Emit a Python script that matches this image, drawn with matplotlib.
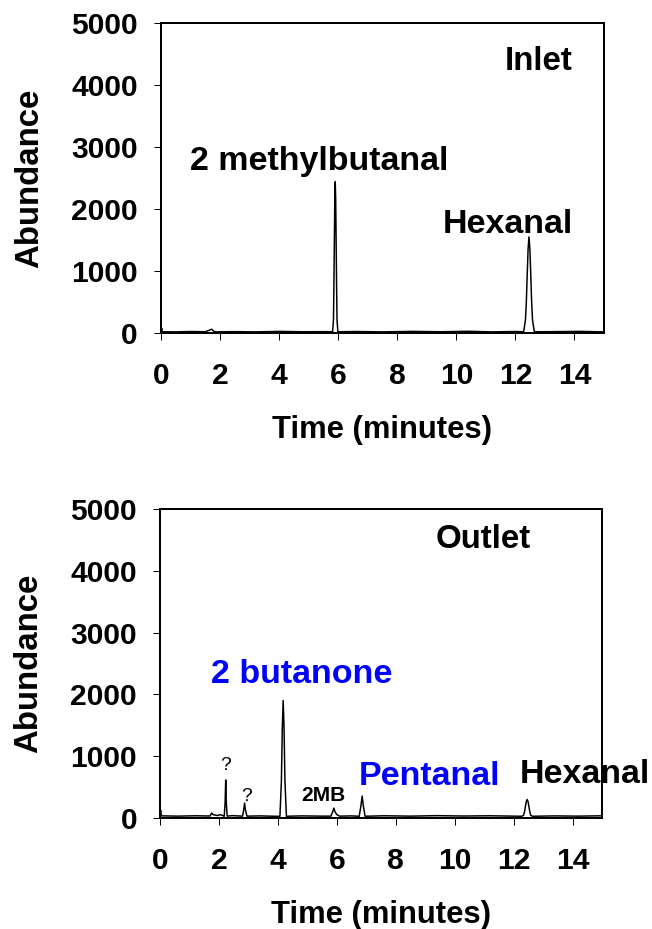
import matplotlib
matplotlib.use("Agg")
import matplotlib.pyplot as plt

plt.rcParams['font.family'] = ['Liberation Sans', 'DejaVu Sans']
plt.rcParams['font.weight'] = 'bold'

# chromatogram traces (time in minutes, abundance)
inlet_time = [0.0, 0.02, 0.05, 0.5, 1.0, 1.5, 1.72, 1.76, 1.80, 1.86, 2.5, 3.2,
              4.0, 4.8, 5.5, 5.81, 5.84, 5.855, 5.87, 5.885, 5.90, 5.915,
              5.93, 5.945, 5.96, 5.99, 6.6,
              7.5, 8.5, 9.5, 10.4, 11.2, 12.0, 12.28, 12.34, 12.37, 12.40,
              12.43, 12.46, 12.49, 12.52, 12.55, 12.58, 12.64, 13.3, 14.2, 15.0]
inlet_abund = [25, 80, 20, 18, 24, 20, 60, 40, 25, 18, 22, 18,
               26, 20, 22, 20, 210, 790, 1490, 2150, 2440, 2150,
               1490, 790, 210, 20, 24,
               18, 26, 20, 28, 18, 24, 20, 210, 500, 940,
               1360, 1550, 1360, 940, 500, 210, 20, 22, 26, 18]

outlet_time = [0.0, 0.02, 0.05, 0.6, 1.2, 1.70, 1.75, 1.80, 1.95, 2.05, 2.18,
               2.21, 2.23, 2.25, 2.28, 2.45, 2.80, 2.84, 2.87, 2.90, 2.95,
               3.4, 3.9, 4.07, 4.12, 4.15, 4.18, 4.21, 4.24, 4.29, 4.8, 5.5,
               5.80, 5.86, 5.90, 5.94, 6.00, 6.10, 6.5, 6.76, 6.82, 6.86, 6.90,
               6.96, 7.6, 8.5, 9.4, 10.3, 11.2, 12.0, 12.28, 12.34, 12.37,
               12.40, 12.43, 12.46, 12.49, 12.52, 12.55, 12.58, 12.64, 13.4,
               14.2, 15.0]
outlet_abund = [40, 130, 35, 30, 36, 32, 80, 55, 40, 55, 28,
                250, 615, 250, 30, 38, 30, 130, 240, 130, 30,
                34, 28, 28, 600, 1450, 1900, 1450, 600, 28, 34, 30,
                30, 100, 160, 100, 55, 30, 34, 28, 200, 355, 200,
                28, 36, 30, 38, 32, 36, 30, 28, 45, 100,
                185, 265, 300, 265, 185, 100, 45, 28, 34,
                30, 36]

x_ticks = [0, 2, 4, 6, 8, 10, 12, 14]
y_ticks = [0, 1000, 2000, 3000, 4000, 5000]

W, H = 652, 929
fig = plt.figure(figsize=(W / 72, H / 72), dpi=72)
ax1 = fig.add_axes([161 / W, 1 - 333 / H, 443 / W, 310 / H])
ax2 = fig.add_axes([160 / W, 1 - 818 / H, 442 / W, 309 / H])

ax1.plot(inlet_time, inlet_abund, color='black', lw=1.5)
ax2.plot(outlet_time, outlet_abund, color='black', lw=1.5)

for ax in (ax1, ax2):
    ax.set_xlim(0, 15)
    ax.set_ylim(0, 5000)
    ax.set_xticks(x_ticks)
    ax.set_yticks(y_ticks)
    for s in ax.spines.values():
        s.set_linewidth(2)
    ax.tick_params(direction='out', length=7, width=1, labelsize=30)
    ax.tick_params(axis='x', pad=22)
    ax.tick_params(axis='y', pad=16)
    ax.set_xlabel('Time (minutes)', fontsize=31, fontweight='bold',
                  va='center')
    ax.xaxis.set_label_coords(0.5, -0.313)
    ax.set_ylabel('Abundance', fontsize=33, fontweight='bold',
                  ha='center', va='center', rotation_mode='default')
    ax.yaxis.set_label_coords(-0.296, 0.5)

blue = '#0000ff'
ax1.text(13.95, 4245, 'Inlet', fontsize=33, ha='right', va='baseline')
ax1.text(5.37, 2630, '2 methylbutanal', fontsize=34, ha='center', va='baseline')
ax1.text(13.95, 1613, 'Hexanal', fontsize=34, ha='right', va='baseline')

ax2.text(12.59, 4369, 'Outlet', fontsize=33, ha='right', va='baseline')
ax2.text(1.73, 2184, '2 butanone', fontsize=34, ha='left', va='baseline',
         color=blue)
ax2.text(2.22, 777, '?', fontsize=19, fontweight='normal', ha='center',
         va='baseline')
ax2.text(2.95, 275, '?', fontsize=19, fontweight='normal', ha='center',
         va='baseline')
ax2.text(5.55, 275, '2MB', fontsize=21, ha='center', va='baseline')
ax2.text(6.75, 534, 'Pentanal', fontsize=34, ha='left', va='baseline',
         color=blue)
ax2.text(12.22, 566, 'Hexanal', fontsize=34, ha='left', va='baseline',
         zorder=5)

fig.savefig('out.png', dpi=72)
